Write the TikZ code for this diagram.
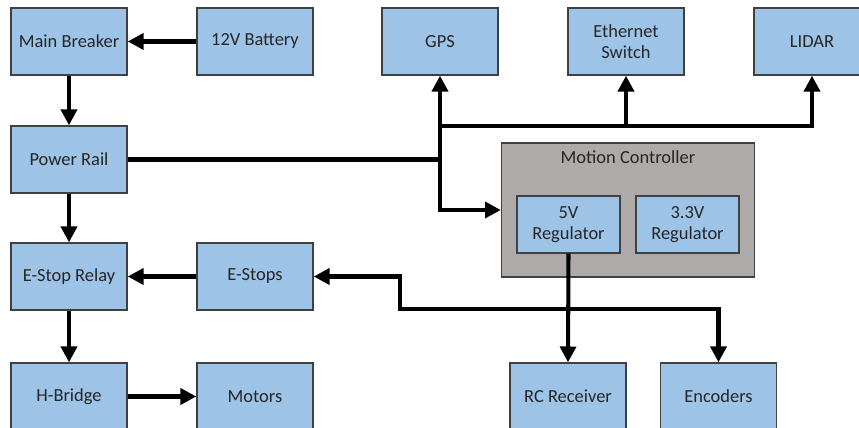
\documentclass[tikz,border=0pt]{standalone}
\usepackage{fontspec}
\setmainfont{Carlito}
\usetikzlibrary{arrows.meta}

\definecolor{boxblue}{RGB}{157,195,230}
\definecolor{ctrlgray}{RGB}{174,170,170}

\begin{document}
\begin{tikzpicture}[
    x=0.02cm,
    y=-0.02cm,
    >={Triangle[length=9pt,width=9pt]},
    font=\fontsize{10.5}{12}\selectfont,
    block/.style={
        draw=black!75,
        fill=boxblue,
        rectangle,
        line width=0.8pt,
        minimum width=2.32cm,
        minimum height=1.34cm,
        align=center,
        text=black!85,
        inner sep=1pt
    },
    reg/.style={
        block,
        minimum width=2.06cm,
        minimum height=1.14cm
    },
    ctrl/.style={
        draw=black!75,
        fill=ctrlgray,
        rectangle,
        line width=0.8pt,
        minimum width=5.06cm,
        minimum height=2.68cm
    },
    wire/.style={
        line width=2.3pt,
        black
    }
]

\clip (0,0) rectangle (859,428);

% left column
\node[block] (breaker) at (69,41.5) {Main Breaker};
\node[block] (battery) at (255,41.5) {12V Battery};
\node[block] (rail) at (69,159.5) {Power Rail};
\node[block] (relay) at (69,276.5) {E-Stop Relay};
\node[block] (estops) at (255,276.5) {E-Stops};
\node[block] (hbridge) at (69,396.5) {H-Bridge};
\node[block] (motors) at (255,396.5) {Motors};

% sensors
\node[block] (gps) at (440,41.5) {GPS};
\node[block] (ethernet) at (626,41.5) {Ethernet\\Switch};
\node[block] (lidar) at (812,41.5) {LIDAR};

% controller
\node[ctrl] (motion) at (628,210) {};
\node[text=black!85] (mctitle) at (628,157) {Motion Controller};
\node[reg] (reg5) at (568.5,224.5) {5V\\Regulator};
\node[reg] (reg33) at (687.5,224.5) {3.3V\\Regulator};

\node[block] (rc) at (568,396.5) {RC Receiver};
\node[block] (encoders) at (718.5,396.5) {Encoders};

\coordinate (bus) at (440,126);
\coordinate (estopbend) at (400,309);

% power chain
\draw[->, wire] (battery.west) -- (breaker.east);
\draw[->, wire] (breaker.south) -- (rail.north);
\draw[->, wire] (rail.south) -- (relay.north);
\draw[->, wire] (relay.south) -- (hbridge.north);
\draw[->, wire] (estops.west) -- (relay.east);
\draw[->, wire] (hbridge.east) -- (motors.west);

% power rail to sensors and controller
\draw[wire] (rail.east) -- (rail.east -| gps.south);
\draw[<->, wire] (gps.south) |- (motion.west);
\draw[->, wire] (bus) -| (lidar.south);
\draw[->, wire] (bus -| ethernet.south) -- (ethernet.south);

% controller outputs
\draw[->, wire] (reg5.south) -- (rc.north);
\draw[<->, wire] (estops.east) -| (estopbend) -| (encoders.north);

\end{tikzpicture}
\end{document}
